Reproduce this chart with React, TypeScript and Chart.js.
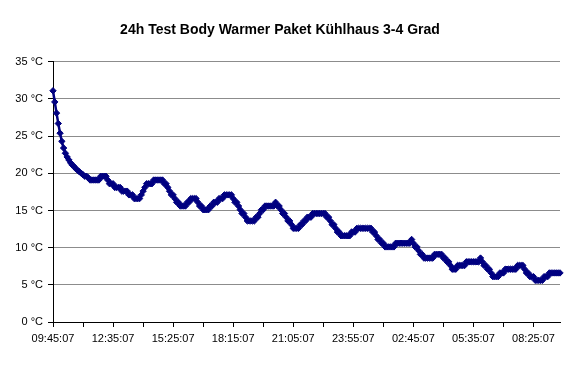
import React, { useEffect, useRef } from "react";
import { Chart, registerables } from "chart.js";

Chart.register(...registerables);

const titleText = "24h Test Body Warmer Paket Kühlhaus 3-4 Grad";

// measurement start and interval (5 minutes)
const startTime = "09:45:07";
const intervalMinutes = 5;

// temperature readings in °C, one per 5 minutes
const temperatures: number[] = [
  31.1, 29.6, 28.1, 26.7, 25.4, 24.3, 23.4, 22.7, 22.2, 21.8,
  21.4, 21.1, 20.9, 20.6, 20.4, 20.2, 20.0, 19.8, 19.6, 19.6,
  19.4, 19.1, 19.1, 19.1, 19.1, 19.1, 19.1, 19.6, 19.6, 19.6,
  19.6, 19.1, 18.6, 18.6, 18.6, 18.1, 18.1, 18.1, 18.1, 17.6,
  17.6, 17.6, 17.6, 17.1, 17.1, 17.1, 16.6, 16.6, 16.6, 16.6,
  17.1, 17.6, 18.1, 18.6, 18.6, 18.6, 18.6, 19.1, 19.1, 19.1,
  19.1, 19.1, 19.1, 18.6, 18.6, 18.1, 17.6, 17.1, 17.1, 16.6,
  16.1, 16.1, 15.6, 15.6, 15.6, 15.6, 16.1, 16.1, 16.6, 16.6,
  16.6, 16.6, 16.1, 15.6, 15.6, 15.1, 15.1, 15.1, 15.1, 15.6,
  15.6, 16.1, 16.1, 16.1, 16.6, 16.6, 16.6, 17.1, 17.1, 17.1,
  17.1, 17.1, 16.6, 16.1, 16.1, 15.6, 15.1, 14.6, 14.6, 14.1,
  13.6, 13.6, 13.6, 13.6, 13.6, 14.1, 14.1, 14.6, 15.1, 15.1,
  15.6, 15.6, 15.6, 15.6, 15.6, 15.6, 16.1, 15.6, 15.6, 15.1,
  14.6, 14.6, 14.1, 13.6, 13.6, 13.1, 12.6, 12.6, 12.6, 12.6,
  13.1, 13.1, 13.6, 13.6, 14.1, 14.1, 14.1, 14.6, 14.6, 14.6,
  14.6, 14.6, 14.6, 14.6, 14.6, 14.1, 14.1, 13.6, 13.1, 13.1,
  12.6, 12.1, 12.1, 11.6, 11.6, 11.6, 11.6, 11.6, 11.6, 12.1,
  12.1, 12.1, 12.6, 12.6, 12.6, 12.6, 12.6, 12.6, 12.6, 12.6,
  12.6, 12.1, 12.1, 11.6, 11.1, 11.1, 10.6, 10.6, 10.1, 10.1,
  10.1, 10.1, 10.1, 10.1, 10.6, 10.6, 10.6, 10.6, 10.6, 10.6,
  10.6, 10.6, 10.6, 11.1, 10.6, 10.1, 10.1, 9.6, 9.1, 9.1,
  8.6, 8.6, 8.6, 8.6, 8.6, 8.6, 9.1, 9.1, 9.1, 9.1,
  9.1, 8.6, 8.6, 8.1, 8.1, 7.6, 7.1, 7.1, 7.1, 7.6,
  7.6, 7.6, 7.6, 7.6, 8.1, 8.1, 8.1, 8.1, 8.1, 8.1,
  8.1, 8.1, 8.6, 8.1, 7.6, 7.6, 7.1, 7.1, 6.6, 6.1,
  6.1, 6.1, 6.1, 6.6, 6.6, 6.6, 7.1, 7.1, 7.1, 7.1,
  7.1, 7.1, 7.1, 7.6, 7.6, 7.6, 7.6, 7.1, 6.6, 6.6,
  6.1, 6.1, 6.1, 5.6, 5.6, 5.6, 5.6, 5.6, 6.1, 6.1,
  6.1, 6.6, 6.6, 6.6, 6.6, 6.6, 6.6, 6.6,
];

// labels shown on the time axis (every 34th reading)
const xTickLabels = [
  "09:45:07", "12:35:07", "15:25:07", "18:15:07", "21:05:07",
  "23:55:07", "02:45:07", "05:35:07", "08:25:07",
];
const labelEvery = 34;
const tickMarkEvery = 17;

const yTicks = [0, 5, 10, 15, 20, 25, 30, 35];

function buildCategories(): string[] {
  const [h, m, s] = startTime.split(":").map(Number);
  const base = h * 3600 + m * 60 + s;
  const pad = (n: number) => String(n).padStart(2, "0");
  return temperatures.map((_, i) => {
    const t = (base + i * intervalMinutes * 60) % 86400;
    return `${pad(Math.floor(t / 3600))}:${pad(Math.floor((t % 3600) / 60))}:${pad(t % 60)}`;
  });
}

export default function App() {
  const ref = useRef<HTMLCanvasElement | null>(null);

  useEffect(() => {
    if (!ref.current) return;
    const categories = buildCategories();
    const font = { family: "'Liberation Sans', Arial, sans-serif", size: 11 };
    const chart = new Chart(ref.current, {
      type: "line",
      data: {
        labels: categories,
        datasets: [
          {
            data: temperatures,
            borderColor: "#000080",
            backgroundColor: "#000080",
            borderWidth: 2.5,
            pointStyle: "rectRot",
            pointRadius: 3.2,
            pointBorderWidth: 1,
            pointBackgroundColor: "#000080",
            pointBorderColor: "#000080",
            tension: 0,
            fill: false,
          },
        ],
      },
      options: {
        responsive: false,
        animation: false,
        layout: { padding: { left: 0, right: 20, top: 0, bottom: 0 } },
        plugins: {
          legend: { display: false },
          tooltip: { enabled: false },
          title: {
            display: true,
            text: titleText,
            color: "#000",
            font: { family: "'Liberation Sans', Arial, sans-serif", size: 14, weight: "bold" },
            padding: { top: 22, bottom: 23 },
          },
        },
        scales: {
          x: {
            type: "category",
            offset: false,
            grid: {
              display: true,
              drawOnChartArea: false,
              drawTicks: true,
              tickLength: 5,
              offset: false,
              tickColor: (ctx: any) => (ctx.index % tickMarkEvery === 0 ? "#000" : "rgba(0,0,0,0)"),
            },
            border: { color: "#000", width: 1 },
            ticks: {
              autoSkip: false,
              maxRotation: 0,
              minRotation: 0,
              padding: 5,
              color: "#000",
              font,
              callback: (_v: any, i: number) =>
                i % labelEvery === 0 ? xTickLabels[i / labelEvery] ?? "" : "",
            },
            afterFit: (scale: any) => {
              scale.height = 54;
            },
          },
          y: {
            min: yTicks[0],
            max: yTicks[yTicks.length - 1],
            afterBuildTicks: (scale: any) => {
              scale.ticks = yTicks.map((v) => ({ value: v }));
            },
            grid: {
              color: "#8c8c8c",
              lineWidth: 1,
              tickColor: "#000",
              tickLength: 5,
            },
            border: { color: "#000", width: 1 },
            ticks: {
              padding: 5,
              color: "#000",
              font,
              callback: (v: any) => `${v} °C`,
            },
            afterFit: (scale: any) => {
              scale.width = 53;
            },
          },
        },
      },
    });
    return () => chart.destroy();
  }, []);

  return (
    <canvas
      ref={ref}
      width={580}
      height={376}
      style={{ position: "absolute", left: 0, top: 0, width: 580, height: 376 }}
    />
  );
}
